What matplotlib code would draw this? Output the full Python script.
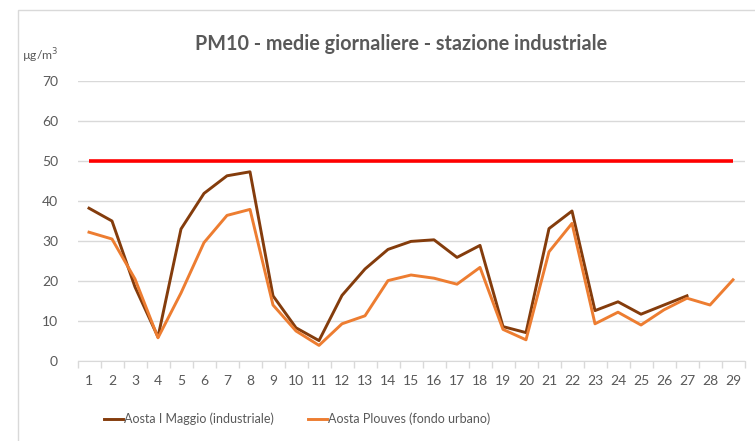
import matplotlib
matplotlib.use("Agg")
import matplotlib.pyplot as plt
from matplotlib.patches import Rectangle
from matplotlib.lines import Line2D

plt.rcParams['font.family'] = ['Lato', 'DejaVu Sans']

# data
days = list(range(1, 30))
maggio = [38.2, 35.0, 18.5, 6.0, 33.0, 41.9, 46.3, 47.3, 16.3, 8.3, 5.1, 16.4, 23.0,
          27.9, 29.9, 30.3, 25.9, 28.9, 8.6, 7.1, 33.1, 37.5, 12.6, 14.8, 11.7, 14.0, 16.3]
plouves = [32.2, 30.5, 20.5, 5.8, 17.0, 29.6, 36.4, 37.9, 14.0, 7.5, 3.9, 9.3, 11.3,
           20.1, 21.5, 20.7, 19.2, 23.4, 7.9, 5.3, 27.3, 34.4, 9.3, 12.2, 9.0, 12.8, 15.7,
           14.0, 20.3]
limit = [50] * len(days)

brown = '#843C0C'
orange = '#ED7D31'
grey_txt = '#595959'

fig = plt.figure(figsize=(7.55, 4.41), dpi=100)
# chart border
fig.patches.append(Rectangle((18 / 755, -0.1), 1.0, 1 - 10 / 441 + 0.1,
                             transform=fig.transFigure, fill=False,
                             edgecolor='#D9D9D9', linewidth=1))

ax = fig.add_axes([77.5 / 755, 1 - 361 / 441, (744.5 - 77.5) / 755, 280 / 441])

ax.plot(days, limit, color='#FF0000', linewidth=2.6, solid_capstyle='butt')
ax.plot(days[:len(maggio)], maggio, color=brown, linewidth=2.1)
ax.plot(days, plouves, color=orange, linewidth=2.1)

ax.set_xlim(0.5, 29.5)
ax.set_ylim(0, 70)
ax.set_yticks(range(0, 71, 10))
ax.set_xticks(days)
ax.set_xticks([d + 0.5 for d in range(0, 30)], minor=True)
ax.tick_params(axis='x', which='major', length=0, pad=10, labelsize=10, labelcolor=grey_txt)
ax.tick_params(axis='x', which='minor', length=5, color='#D9D9D9', width=1)
ax.tick_params(axis='y', length=0, pad=14, labelsize=10, labelcolor=grey_txt)
ax.grid(axis='y', color='#D9D9D9', linewidth=1)
ax.set_axisbelow(True)
for s in ['top', 'right', 'left']:
    ax.spines[s].set_visible(False)
ax.spines['bottom'].set_color('#D9D9D9')

fig.text(401 / 755, 1 - 44 / 441, 'PM10 - medie giornaliere - stazione industriale',
         ha='center', va='center', fontsize=14.2, fontweight='bold', color=grey_txt)
fig.text(22 / 755, 1 - 56 / 441, 'µg/m$^3$', ha='left', va='center',
         fontsize=8.7, color=grey_txt)

handles = [Line2D([], [], color=brown, linewidth=2.1),
           Line2D([], [], color=orange, linewidth=2.1)]
fig.legend(handles, ['Aosta I Maggio (industriale)', 'Aosta Plouves (fondo urbano)'],
           loc='center left', bbox_to_anchor=(93 / 755, 1 - 419 / 441), ncol=2,
           frameon=False, fontsize=9, handlelength=1.5, handletextpad=0.1,
           columnspacing=2.7, labelcolor=grey_txt)

fig.savefig('out.png', dpi=100)
